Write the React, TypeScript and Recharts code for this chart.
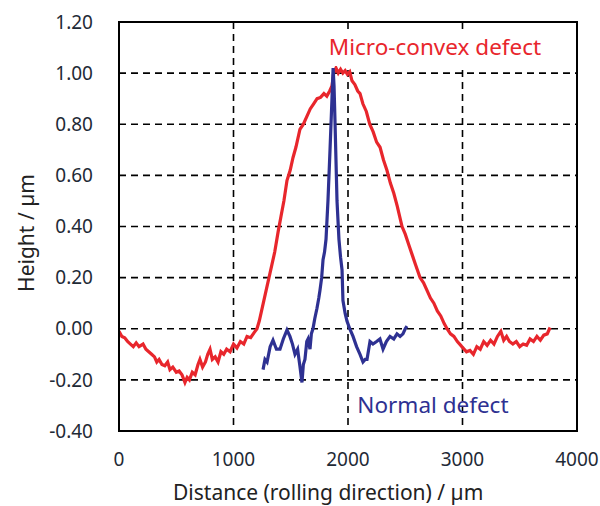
import React from 'react'
import {
  LineChart,
  Line,
  XAxis,
  YAxis,
  CartesianGrid,
  ReferenceArea,
  ReferenceDot,
  Label,
} from 'recharts'

// micro-convex defect profile (red)
const redDistance = [
  0, 25, 50, 75, 100, 125, 150, 175, 210, 235, 260, 285, 310, 330, 350, 375, 400, 425, 445, 470,
  500, 525, 550, 576, 595, 615, 640, 665, 690, 707, 730, 755, 775, 795, 815, 840, 865, 890, 915, 940,
  970, 1000, 1030, 1060, 1090, 1118, 1150, 1180, 1205, 1225, 1245, 1265, 1285, 1310, 1335, 1360, 1390, 1415, 1440, 1467,
  1495, 1520, 1545, 1580, 1610, 1640, 1670, 1700, 1730, 1760, 1790, 1815, 1840, 1860, 1875, 1895, 1915, 1935, 1955, 1975,
  1995, 2015, 2035, 2060, 2085, 2105, 2130, 2160, 2190, 2220, 2250, 2280, 2310, 2340, 2370, 2400, 2430, 2472, 2500, 2530,
  2560, 2590, 2629, 2660, 2690, 2720, 2750, 2780, 2810, 2840, 2865, 2895, 2925, 2955, 2985, 3004, 3035, 3065, 3095, 3125,
  3155, 3185, 3215, 3245, 3275, 3305, 3335, 3360, 3385, 3410, 3440, 3470, 3500, 3530, 3560, 3590, 3620, 3650, 3680, 3710,
  3740, 3765,
]
const redHeight = [
  -0.01, -0.03, -0.035, -0.05, -0.06, -0.07, -0.055, -0.07, -0.06, -0.08, -0.09, -0.1, -0.11, -0.13, -0.12, -0.14, -0.145, -0.13, -0.16, -0.15,
  -0.17, -0.165, -0.18, -0.21, -0.19, -0.2, -0.17, -0.18, -0.14, -0.12, -0.15, -0.13, -0.1, -0.08, -0.12, -0.11, -0.13, -0.09, -0.1, -0.08,
  -0.09, -0.06, -0.075, -0.05, -0.06, -0.03, -0.035, -0.015, 0.0, 0.03, 0.07, 0.11, 0.15, 0.2, 0.25, 0.3, 0.38, 0.44, 0.5, 0.58,
  0.62, 0.67, 0.71, 0.78, 0.8, 0.83, 0.86, 0.88, 0.9, 0.905, 0.92, 0.91, 0.93, 0.95, 1.0, 1.02, 1.0, 1.015, 1.0, 1.01,
  0.995, 1.005, 0.97, 0.955, 0.93, 0.92, 0.88, 0.85, 0.8, 0.77, 0.73, 0.71, 0.66, 0.62, 0.57, 0.53, 0.48, 0.4, 0.37, 0.33,
  0.29, 0.25, 0.2, 0.18, 0.15, 0.12, 0.1, 0.07, 0.05, 0.02, 0.0, -0.02, -0.03, -0.05, -0.065, -0.075, -0.09, -0.085, -0.1, -0.07,
  -0.08, -0.05, -0.065, -0.045, -0.06, -0.03, -0.01, -0.045, -0.03, -0.05, -0.06, -0.05, -0.07, -0.06, -0.065, -0.04, -0.05, -0.03, -0.045, -0.025,
  -0.02, 0.005,
]

// normal defect profile (blue)
const blueDistance = [
  1258, 1275, 1293, 1320, 1345, 1375, 1406, 1435, 1467, 1493, 1515, 1537, 1560, 1581, 1598, 1610, 1624, 1640, 1651, 1668,
  1680, 1694, 1710, 1729, 1745, 1755, 1770, 1782, 1795, 1808, 1825, 1843, 1860, 1870, 1878, 1886, 1904, 1921, 1935, 1948,
  1956, 1975, 1991, 2015, 2044, 2075, 2105, 2131, 2150, 2166, 2192, 2218, 2250, 2279, 2306, 2335, 2367, 2400, 2428, 2455,
  2480, 2500, 2515,
]
const blueHeight = [
  -0.16, -0.12, -0.13, -0.07, -0.045, -0.08, -0.08, -0.04, -0.005, -0.03, -0.06, -0.1, -0.08, -0.15, -0.21, -0.14, -0.12, -0.05, -0.04, -0.08,
  -0.02, 0.0, 0.04, 0.08, 0.12, 0.15, 0.2, 0.27, 0.3, 0.35, 0.5, 0.7, 0.9, 1.02, 0.95, 0.82, 0.5, 0.35, 0.28, 0.23,
  0.11, 0.06, 0.03, 0.0, -0.03, -0.07, -0.1, -0.13, -0.12, -0.12, -0.05, -0.06, -0.05, -0.04, -0.08, -0.05, -0.03, -0.04, -0.02, -0.03,
  -0.02, 0.0, 0.01,
]

const xTicks = [0, 1000, 2000, 3000, 4000]
const yTicks = [-0.4, -0.2, 0, 0.2, 0.4, 0.6, 0.8, 1.0, 1.2]

const redData = redDistance.map((d, i) => ({ d, h: redHeight[i] }))
const blueData = blueDistance.map((d, i) => ({ d, h: blueHeight[i] }))

const RED = '#e8262c'
const BLUE = '#2e3192'
const TICK = '#1f2a36'
const FONT = '"Noto Sans", "Liberation Sans", sans-serif'

function Tag(props: any) {
  const { viewBox, text, color, boxed } = props
  const cx = viewBox.x + viewBox.width / 2
  const cy = viewBox.y + viewBox.height / 2
  return (
    <g>
      {boxed && <rect x={cx - 116} y={cy - 15} width={232} height={35} fill="#fff" />}
      <text
        x={cx}
        y={cy}
        textAnchor="middle"
        dominantBaseline="central"
        fill={color}
        fontSize={22.5}
        fontFamily={FONT}
      >
        {text}
      </text>
    </g>
  )
}

function YTitle() {
  const x = 26
  const y = 233
  return (
    <text
      x={x}
      y={y}
      transform={`rotate(-90, ${x}, ${y})`}
      textAnchor="middle"
      dominantBaseline="central"
      fill="#222"
      fontSize={21}
      fontFamily={FONT}
    >
      Height / µm
    </text>
  )
}

function XTitle() {
  return (
    <text x={173} y={500} textAnchor="start" fill="#222" fontSize={21} fontFamily={FONT}>
      Distance (rolling direction) / µm
    </text>
  )
}

export default function App() {
  return (
    <div style={{ position: 'absolute', left: 0, top: 0, width: 600, height: 506, background: '#fff' }}>
      <LineChart width={600} height={506} margin={{ top: 22, right: 23, bottom: 30, left: 39 }}>
        <CartesianGrid stroke="#000" strokeWidth={1.6} strokeDasharray="7 5" />
        <XAxis
          type="number"
          dataKey="d"
          domain={[0, 4000]}
          ticks={xTicks}
          height={45}
          tickSize={0}
          tickMargin={22}
          axisLine={{ stroke: '#000', strokeWidth: 2 }}
          tick={{ fill: TICK, fontSize: 19, fontFamily: FONT }}
          allowDataOverflow
        >
          <Label content={<XTitle />} />
        </XAxis>
        <YAxis
          type="number"
          dataKey="h"
          domain={[-0.4, 1.2]}
          ticks={yTicks}
          width={80}
          tickSize={0}
          tickMargin={26}
          axisLine={{ stroke: '#000', strokeWidth: 2 }}
          tick={{ fill: TICK, fontSize: 19, fontFamily: FONT }}
          tickFormatter={(v: number) => v.toFixed(2)}
          allowDataOverflow
        >
          <Label content={<YTitle />} />
        </YAxis>
        <ReferenceArea x1={0} x2={4000} y1={-0.4} y2={1.2} fill="none" stroke="#000" strokeWidth={2} />
        <Line
          data={redData}
          dataKey="h"
          type="linear"
          stroke={RED}
          strokeWidth={3.2}
          dot={false}
          isAnimationActive={false}
        />
        <Line
          data={blueData}
          dataKey="h"
          type="linear"
          stroke={BLUE}
          strokeWidth={3.2}
          dot={false}
          isAnimationActive={false}
        />
        <ReferenceDot
          x={2760}
          y={1.106}
          r={1}
          fill="none"
          stroke="none"
          label={<Tag text="Micro-convex defect" color={RED} boxed />}
        />
        <ReferenceDot
          x={2742}
          y={-0.298}
          r={1}
          fill="none"
          stroke="none"
          label={<Tag text="Normal defect" color={BLUE} />}
        />
      </LineChart>
    </div>
  )
}
